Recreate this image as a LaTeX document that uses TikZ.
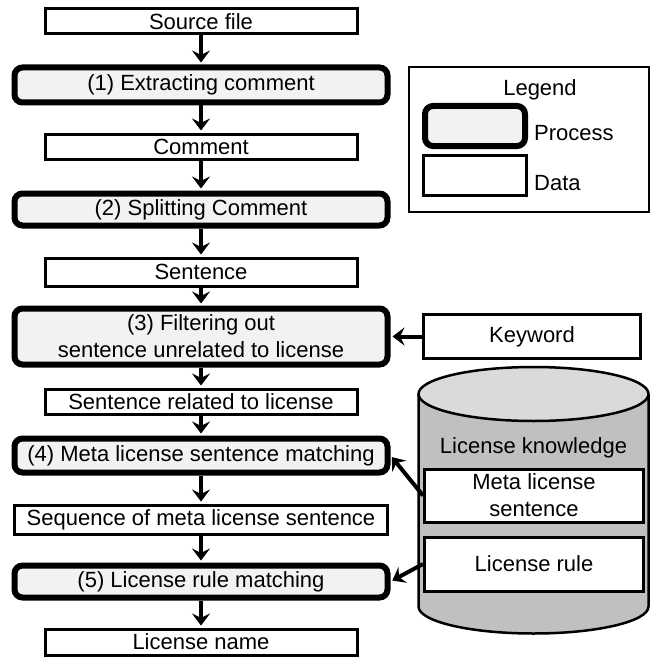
\documentclass[tikz,border=0pt]{standalone}
\usepackage{fontspec}
\setmainfont{Liberation Sans}
\usetikzlibrary{arrows.meta}
\definecolor{procgray}{HTML}{F2F2F2}
\definecolor{dbbody}{HTML}{C0C0C0}
\definecolor{dbtop}{HTML}{DADADA}
\begin{document}
\begin{tikzpicture}[x=1pt,y=-1pt,
  every node/.style={font=\fontsize{22}{27}\selectfont},
  data/.style={draw,line width=3pt,fill=white,align=center,inner sep=0pt,minimum width=312pt,minimum height=25pt},
  proc/.style={draw,line width=6pt,rounded corners=8pt,fill=procgray,align=center,inner sep=0pt,minimum width=373pt},
  flow/.style={line width=4pt,shorten >=2pt,-{Stealth[length=12pt,width=18pt,inset=4.5pt]}}]
\useasboundingbox (0,0) rectangle (655,658);

\fill[dbbody] (418.5,394) -- (418.5,606.5) arc[start angle=180,end angle=0,x radius=115,y radius=27] -- (648.5,394) -- cycle;
\draw[line width=2.5pt] (418.5,394) -- (418.5,606.5) arc[start angle=180,end angle=0,x radius=115,y radius=27] -- (648.5,394);
\draw[line width=2.5pt,fill=dbtop] (533.5,394) ellipse[x radius=115,y radius=27];

\node[data] (src) at (201,21.5) {Source file};
\node[proc,minimum height=35pt] (p1) at (201,85) {(1) Extracting comment};
\node[data] (cmt) at (201,146.5) {Comment};
\node[proc,minimum height=32pt] (p2) at (201,209.5) {(2) Splitting Comment};
\node[data,minimum height=28pt] (sen) at (201,272) {Sentence};
\node[proc,minimum height=56pt] (p3) at (201,336.5) {(3) Filtering out\\sentence unrelated to license};
\node[data] (rel) at (201,401.5) {Sentence related to license};
\node[proc,minimum height=34pt] (p4) at (201,455.5) {(4) Meta license sentence matching};
\node[data,minimum width=373pt,minimum height=29pt] (seq) at (201,519.5) {Sequence of meta license sentence};
\node[proc,minimum height=32pt] (p5) at (201,581.5) {(5) License rule matching};
\node[data,minimum height=26pt] (lname) at (201,642) {License name};

\node[data,minimum width=217pt,minimum height=44pt] (kw) at (532,336.5) {Keyword};
\node (know) at (533.5,447.5) {License knowledge};
\node[data,minimum width=219pt,minimum height=53pt] (meta) at (534,495.5) {Meta license\\sentence};
\node[data,minimum width=219pt,minimum height=54pt] (rule) at (534,564) {License rule};

\node[draw,line width=2pt,minimum width=240pt,minimum height=145pt] (legend) at (529,139.5) {};
\node (legtitle) at (540,89.5) {Legend};
\node[proc,minimum width=100pt,minimum height=40pt] (legproc) at (475,126) {};
\node[data,minimum width=103pt,minimum height=40pt] (legdata) at (475,175.5) {};
\node[anchor=west,inner sep=0pt] (legproctxt) at (534,133) {Process};
\node[anchor=west,inner sep=0pt] (legdatatxt) at (534,183) {Data};

\draw[flow] (src) -- (p1);
\draw[flow] (p1) -- (cmt);
\draw[flow] (cmt) -- (p2);
\draw[flow] (p2) -- (sen);
\draw[flow] (sen) -- (p3);
\draw[flow] (p3) -- (rel);
\draw[flow] (rel) -- (p4);
\draw[flow] (p4) -- (seq);
\draw[flow] (seq) -- (p5);
\draw[flow] (p5) -- (lname);
\draw[flow] (kw) -- (p3);
\draw[flow] (meta.west) -- (p4.east);
\draw[flow] (rule.west) -- (p5.east);
\end{tikzpicture}
\end{document}
